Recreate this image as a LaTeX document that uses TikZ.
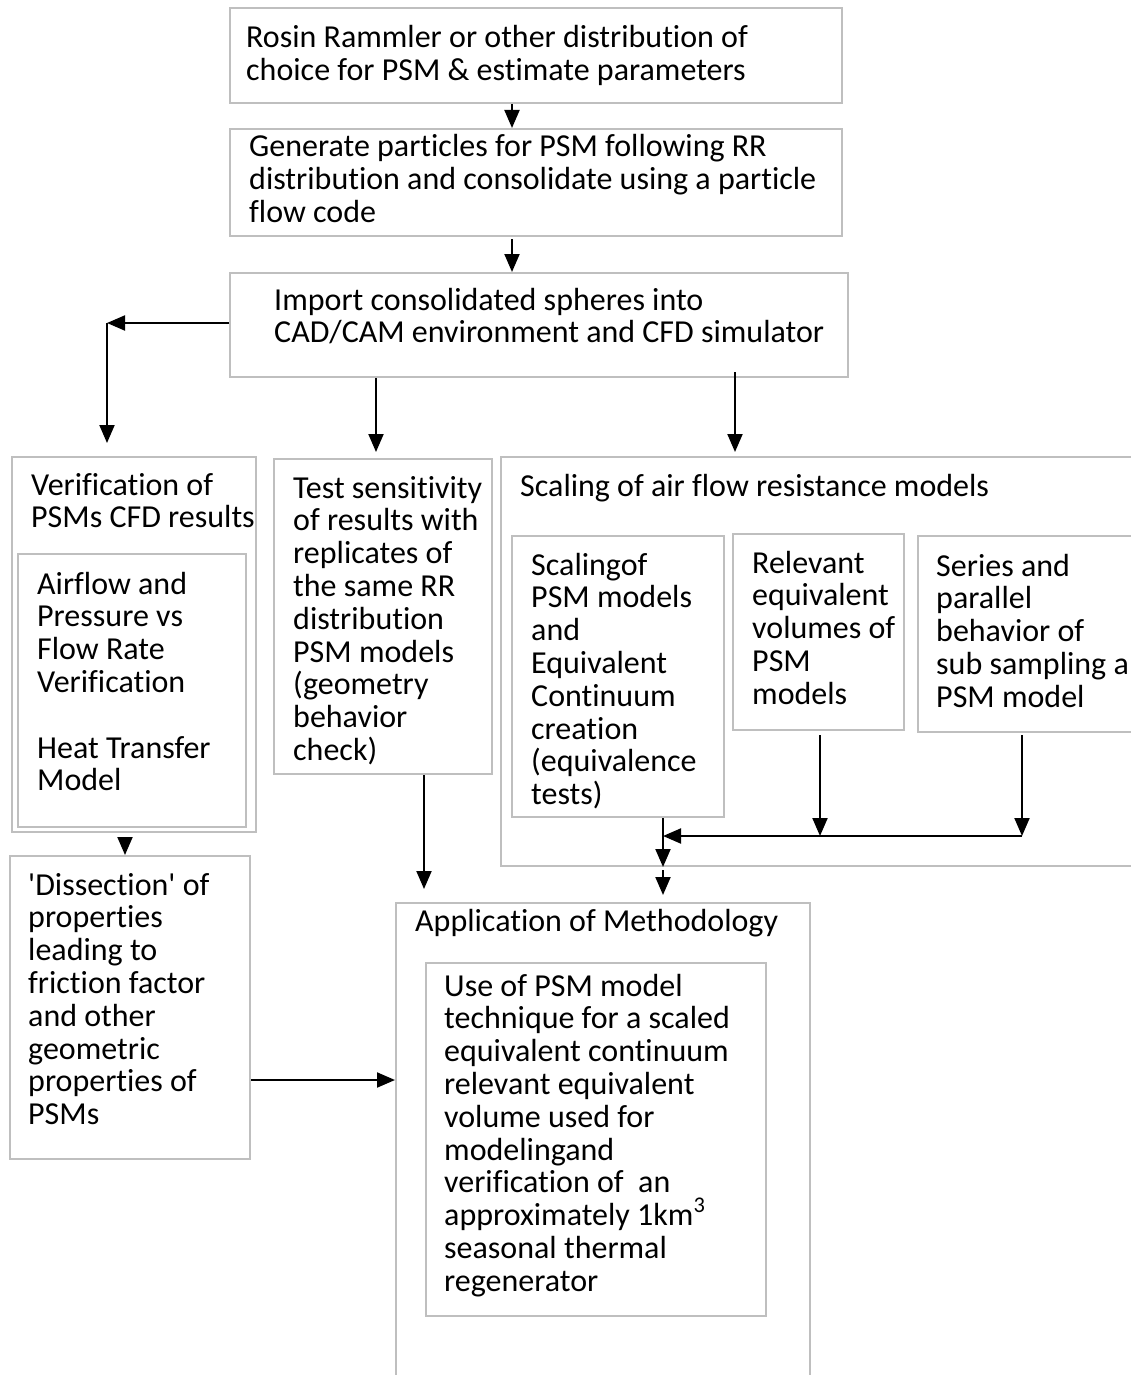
\documentclass[tikz,border=0pt]{standalone}
\usepackage{fontspec}
\setmainfont{Carlito}[Ligatures=NoCommon]
\usetikzlibrary{arrows.meta}
\newcommand{\fsz}{\fontsize{32}{32.8}\selectfont}
\newcommand{\lines}[1]{\parbox[t]{1000pt}{\raggedright #1}}
\tikzset{
  box/.style={draw=gray!50, line width=2pt, inner sep=0pt, anchor=north west, fill=none},
  txt/.style={anchor=base west, inner sep=0pt, font=\fsz},
  arr/.style={draw=black, line width=2pt, -{Triangle[width=15pt,length=18pt]}},
  ln/.style={draw=black, line width=2pt}
}
\newcommand{\boxat}[5]{\node[box, minimum width=#4-#2, minimum height=#5-#3] (#1) at (#2,#3) {};}
\begin{document}
\begin{tikzpicture}[x=1pt,y=-1pt]
\useasboundingbox (0,0) rectangle (1130,1375);
% boxes
\boxat{b1}{229}{7}{841}{102}
\boxat{b2}{229}{128}{841}{235}
\boxat{b3}{229}{272}{847}{376}
\boxat{ver}{11}{456}{255}{831}
\boxat{verin}{17}{553}{245}{826}
\boxat{test}{273}{458}{491}{773}
\boxat{scal}{500}{456}{1150}{865}
\boxat{sa}{511}{535}{723}{816}
\boxat{sb}{732}{533}{903}{729}
\boxat{sc}{917}{535}{1150}{731}
\boxat{diss}{9}{855}{249}{1158}
\boxat{app}{395}{902}{809}{1400}
\boxat{appin}{425}{962}{765}{1315}
% texts
\node[txt] (t1) at (246,48) {\lines{Rosin Rammler or other distribution of\\choice for PSM \& estimate parameters}};
\node[txt] (t2) at (249,157) {\lines{Generate particles for PSM following RR\\distribution and consolidate using a particle\\flow code}};
\node[txt] (t3) at (274,310) {\lines{Import consolidated spheres into\\CAD/CAM environment and CFD simulator}};
\node[txt] (tver) at (31,495) {\lines{Verification of\\PSMs CFD results}};
\node[txt] (tverin) at (37,594) {\lines{Airflow and\\Pressure vs\\Flow Rate\\Verification\\[32.8pt]Heat Transfer\\Model}};
\node[txt] (ttest) at (293,498) {\lines{Test sensitivity\\of results with\\replicates of\\the same RR\\distribution\\PSM models\\(geometry\\behavior\\check)}};
\node[txt] (tscal) at (520,496) {\lines{Scaling of air flow resistance models}};
\node[txt] (tsa) at (531,575) {\lines{Scalingof\\PSM models\\and\\Equivalent\\Continuum\\creation\\(equivalence\\tests)}};
\node[txt] (tsb) at (752,573) {\lines{Relevant\\equivalent\\volumes of\\PSM\\models}};
\node[txt] (tsc) at (936,576) {\lines{Series and\\parallel\\behavior of\\sub sampling a\\PSM model}};
\node[txt] (tdiss) at (28,895) {\lines{\textquotesingle Dissection\textquotesingle\ of\\properties\\leading to\\friction factor\\and other\\geometric\\properties of\\PSMs}};
\node[txt] (tapp) at (415,931) {\lines{Application of Methodology}};
\node[txt] (tappin) at (444,996) {\lines{Use of PSM model\\technique for a scaled\\equivalent continuum\\relevant equivalent\\volume used for\\modelingand\\verification of~~an\\approximately 1km\raisebox{4pt}{\textsuperscript{3}}\\seasonal thermal\\regenerator}};
% coordinates
\coordinate (cL) at (107,323);
\coordinate (jn) at (663,836);
\coordinate (jr) at (1022,836);
\coordinate (jm) at (820,836);
% connectors
\draw[arr] (b1.south -| 512,0) -- (b2.north -| 512,0);
\draw[arr] ([yshift=-2pt]b2.south -| 512,0) -- (b3.north -| 512,0);
\draw[arr] (b3.west |- cL) -- (cL);
\draw[arr] (cL) -- (107,443);
\draw[arr] (b3.south -| 376,0) -- (376,452);
\draw[arr] ([yshift=6pt]b3.south -| 735,0) -- (735,452);
\draw[arr] ([yshift=-7pt]ver.south -| 125,0) -- (diss.north -| 125,0);
\draw[arr] (test.south -| 424,0) -- (424,889);
\draw[arr] (diss.east |- 0,1080) -- (app.west |- 0,1080);
\draw[arr] ([yshift=-4pt]sb.south -| jm) -- (jm);
\draw[arr] ([yshift=-2pt]sc.south -| jr) -- (jr);
\draw[arr] (jr) -- (jn);
\draw[arr] (sa.south -| jn) -- (scal.south -| jn);
\draw[arr] ([yshift=-3pt]scal.south -| jn) -- ([yshift=7pt]app.north -| jn);
\end{tikzpicture}
\end{document}
